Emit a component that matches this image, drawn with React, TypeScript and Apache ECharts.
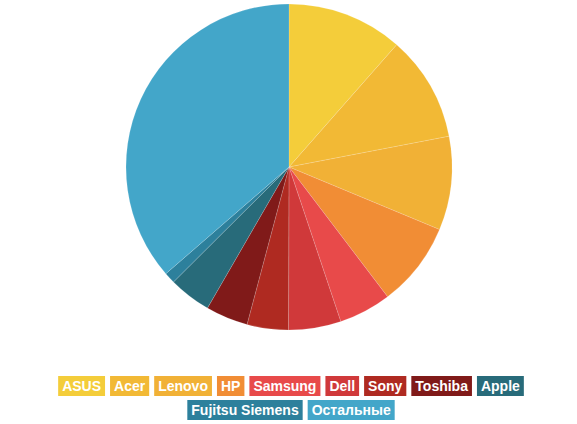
import * as echarts from "echarts";
import { useEffect, useRef } from "react";

const BRANDS = [
  "ASUS",
  "Acer",
  "Lenovo",
  "HP",
  "Samsung",
  "Dell",
  "Sony",
  "Toshiba",
  "Apple",
  "Fujitsu Siemens",
  "Остальные",
];

// market share, %
const SHARE = [11.5, 10.5, 9.3, 8.4, 5.2, 5.2, 4.1, 4.2, 4.2, 1.1, 36.4];

const COLORS = [
  "#f4cd3a",
  "#f2b935",
  "#f1b136",
  "#f18d35",
  "#e84a4a",
  "#d0393a",
  "#af2a21",
  "#801a19",
  "#286b7a",
  "#2d809c",
  "#43a6c9",
];

// legend wraps after Apple; each row is centred on its own
const ROW_ONE = BRANDS.slice(0, 9);
const ROW_TWO = BRANDS.slice(9);

const FONT = "'Liberation Sans', Arial, sans-serif";

function legendItem(name: string) {
  const i = BRANDS.indexOf(name);
  return {
    name,
    textStyle: {
      color: "#ffffff",
      backgroundColor: COLORS[i],
      fontWeight: "bold" as const,
      fontSize: 14,
      fontFamily: FONT,
      lineHeight: 14,
      padding: [3, 4, 3, 4],
    },
  };
}

function legendRow(names: string[], top: number) {
  return {
    top,
    left: "center",
    orient: "horizontal",
    icon: "none",
    itemWidth: 0,
    itemHeight: 0,
    itemGap: 0,
    selectedMode: false,
    data: names.map(legendItem),
  };
}

export default function App() {
  const ref = useRef<HTMLDivElement>(null);

  useEffect(() => {
    document.body.style.margin = "0";
    const el = ref.current;
    if (!el) return;
    const chart = echarts.init(el, undefined, { renderer: "svg" });
    chart.setOption({
      animation: false,
      color: COLORS,
      legend: [legendRow(ROW_ONE, 371), legendRow(ROW_TWO, 395)],
      series: [
        {
          type: "pie",
          center: [289, 167],
          radius: [0, 163],
          startAngle: 90,
          clockwise: true,
          silent: true,
          label: { show: false },
          labelLine: { show: false },
          itemStyle: { borderColor: "rgba(255,255,255,0.25)", borderWidth: 0.6 },
          data: BRANDS.map((name, i) => ({ name, value: SHARE[i] })),
        },
      ],
    });
    return () => chart.dispose();
  }, []);

  return <div ref={ref} style={{ width: 577, height: 424 }} />;
}
